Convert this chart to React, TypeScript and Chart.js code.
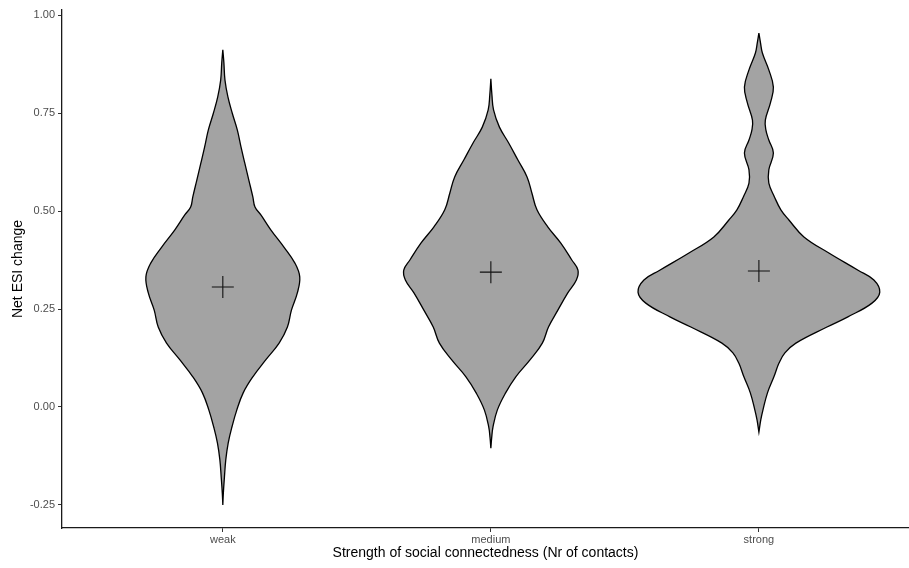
import React, { useEffect, useRef } from "react";
import { Chart, registerables } from "chart.js";

Chart.register(...registerables);

// ---- data ----
const categories = ["weak", "medium", "strong"];
const categoryPositions = [1, 2, 3];
const yTickValues = [-0.25, 0, 0.25, 0.5, 0.75, 1.0];

// violin outlines: values (top -> bottom) and half-widths (in category units)
const weakValues = [0.911, 0.878, 0.834, 0.791, 0.75, 0.707, 0.663, 0.622, 0.579, 0.536, 0.51, 0.49, 0.452, 0.408, 0.367, 0.332, 0.291, 0.247, 0.204, 0.163, 0.12, 0.077, 0.036, -0.008, -0.051, -0.092, -0.135, -0.179, -0.219, -0.25];
const weakHalf = [0, 0.004, 0.008, 0.019, 0.035, 0.054, 0.068, 0.082, 0.097, 0.112, 0.12, 0.142, 0.179, 0.228, 0.269, 0.287, 0.278, 0.256, 0.241, 0.21, 0.16, 0.112, 0.076, 0.052, 0.034, 0.02, 0.011, 0.006, 0.002, 0];

const mediumValues = [0.837, 0.796, 0.758, 0.714, 0.673, 0.63, 0.587, 0.546, 0.503, 0.459, 0.418, 0.375, 0.349, 0.324, 0.291, 0.247, 0.204, 0.163, 0.12, 0.077, 0.036, -0.008, -0.051, -0.079, -0.105];
const mediumHalf = [0, 0.004, 0.01, 0.032, 0.067, 0.101, 0.135, 0.153, 0.172, 0.213, 0.261, 0.302, 0.325, 0.319, 0.287, 0.25, 0.215, 0.192, 0.146, 0.093, 0.055, 0.024, 0.008, 0.003, 0];

const strongValues = [0.954, 0.929, 0.903, 0.86, 0.816, 0.776, 0.732, 0.707, 0.681, 0.648, 0.605, 0.571, 0.536, 0.503, 0.477, 0.434, 0.393, 0.349, 0.324, 0.293, 0.265, 0.23, 0.204, 0.163, 0.138, 0.112, 0.077, 0.036, -0.008, -0.033, -0.064];
const strongHalf = [0, 0.006, 0.013, 0.037, 0.054, 0.043, 0.024, 0.026, 0.037, 0.054, 0.037, 0.037, 0.058, 0.082, 0.112, 0.168, 0.261, 0.37, 0.429, 0.451, 0.422, 0.332, 0.254, 0.138, 0.097, 0.075, 0.056, 0.032, 0.015, 0.007, 0];

const meanValues = [0.306, 0.344, 0.347];

const FONT = "'Liberation Sans', Arial, Helvetica, sans-serif";

function outline(center: number, values: number[], half: number[]) {
  const pts: { x: number; y: number }[] = [];
  for (let i = 0; i < values.length; i++) pts.push({ x: center + half[i], y: values[i] });
  for (let i = values.length - 1; i >= 0; i--) pts.push({ x: center - half[i], y: values[i] });
  return pts;
}

export default function App() {
  const ref = useRef<HTMLCanvasElement | null>(null);

  useEffect(() => {
    if (!ref.current) return;
    const violins = [
      outline(categoryPositions[0], weakValues, weakHalf),
      outline(categoryPositions[1], mediumValues, mediumHalf),
      outline(categoryPositions[2], strongValues, strongHalf),
    ];
    const chart = new Chart(ref.current, {
      type: "scatter",
      data: {
        datasets: [
          {
            label: "mean",
            data: categoryPositions.map((x, i) => ({ x, y: meanValues[i] })),
            pointStyle: "cross",
            pointRadius: 11,
            pointBorderWidth: 1.1,
            borderColor: "#111111",
            backgroundColor: "#111111",
            showLine: false,
            order: 0,
          } as any,
          ...violins.map((pts, i) => ({
            label: categories[i],
            data: pts,
            showLine: true,
            fill: "shape",
            backgroundColor: "#a3a3a3",
            borderColor: "#000000",
            borderWidth: 1.3,
            pointRadius: 0,
            tension: 0.4,
            order: 1,
          })) as any,
        ],
      },
      options: {
        animation: false,
        responsive: true,
        maintainAspectRatio: false,
        layout: { autoPadding: false, padding: { top: 10, right: 0, left: 0, bottom: 0 } },
        plugins: { legend: { display: false }, tooltip: { enabled: false } },
        scales: {
          x: {
            type: "linear",
            min: 0.4,
            max: 3.56,
            afterBuildTicks: (scale: any) => {
              scale.ticks = categoryPositions.map((v) => ({ value: v }));
            },
            afterFit: (scale: any) => {
              scale.height = 40;
            },
            ticks: {
              callback: (_v: any, i: number) => categories[i],
              color: "#4d4d4d",
              font: { family: FONT, size: 11 },
              padding: 1,
              maxRotation: 0,
              autoSkip: false,
            },
            grid: { drawOnChartArea: false, drawTicks: true, tickLength: 4, color: "#333333", tickWidth: 1 },
            border: { display: true, color: "#1a1a1a", width: 1.3 },
            title: {
              display: true,
              text: "Strength of social connectedness (Nr of contacts)",
              color: "#000000",
              font: { family: FONT, size: 14 },
              padding: { top: 0, bottom: 6 },
            },
          },
          y: {
            type: "linear",
            min: -0.3087,
            max: 1.0128,
            afterBuildTicks: (scale: any) => {
              scale.ticks = yTickValues.map((v) => ({ value: v }));
            },
            afterFit: (scale: any) => {
              scale.width = 62;
            },
            ticks: {
              callback: (v: any) => Number(v).toFixed(2),
              color: "#4d4d4d",
              font: { family: FONT, size: 11 },
              padding: 3,
              autoSkip: false,
            },
            grid: { drawOnChartArea: false, drawTicks: true, tickLength: 4, color: "#333333", tickWidth: 1 },
            border: { display: true, color: "#1a1a1a", width: 1.3 },
            title: {
              display: true,
              text: "Net ESI change",
              color: "#000000",
              font: { family: FONT, size: 14 },
              padding: { top: 10, bottom: 0 },
            },
          },
        },
      } as any,
    });
    return () => chart.destroy();
  }, []);

  return (
    <div style={{ position: "absolute", left: 0, top: 0, width: 909, height: 568, background: "#ffffff" }}>
      <canvas ref={ref} />
    </div>
  );
}
